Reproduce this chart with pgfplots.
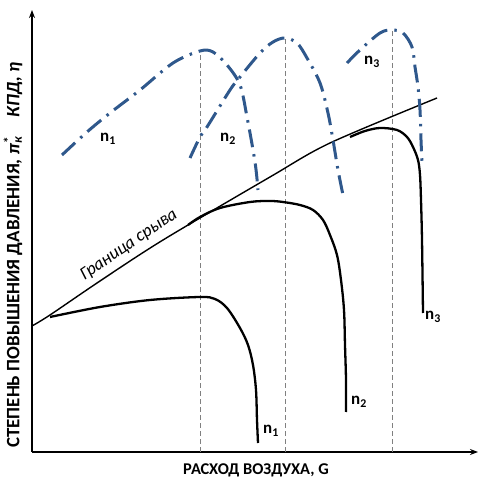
\documentclass[border=0pt]{standalone}
\usepackage{fontspec}
\setmainfont{Carlito}
\usepackage{pgfplots}
\pgfplotsset{compat=1.18}
\usetikzlibrary{arrows.meta}
\definecolor{effblue}{RGB}{47,88,140}

\begin{document}
\begin{tikzpicture}
\begin{axis}[
    scale only axis, width=446bp, height=442bp,
    xmin=32, xmax=478, ymin=26, ymax=468,
    axis lines=left,
    axis line style={line width=1.3bp, -{Stealth[length=8bp,width=6bp]}},
    ticks=none, clip=false,
    solid/.style={black, line width=2.3bp, smooth, tension=0.55},
    eff/.style={effblue, line width=3bp, smooth, tension=0.55,
        dash pattern=on 18bp off 7bp on 2.5bp off 7bp},
    guide/.style={gray, line width=0.9bp, dash pattern=on 5bp off 3bp},
]
\coordinate (bl) at (axis cs:0,0);
\coordinate (tr) at (axis cs:480,478);

% vertical guides
\addplot[guide] coordinates {(200,26)(200,427)};
\addplot[guide] coordinates {(285,26)(285,440)};
\addplot[guide] coordinates {(392,26)(392,448)};

% surge line
\addplot[black, line width=1.4bp, smooth] coordinates {
    (32,152)(50,163)(100,197)(163,238)(270,301)(330,335)(437,380)};

% pressure ratio curves
\addplot[solid] coordinates {
    (50,161)(100,171)(150,178)(200,181)(215,179)(227,170)(240,150)
    (248,133)(253,113)(256,88)(257,58)(258,35)};
\addplot[solid] coordinates {
    (188,253)(200,261)(220,270)(250,276)(270,277)(283,276)(300,273)
    (313,268)(323,258)(330,243)(337,223)(341,198)(344,168)(345,133)
    (346,98)(346,66)};
\addplot[solid] coordinates {
    (350,341)(365,347)(380,350)(397,348)(407,341)(413,331)(418,318)
    (420,303)(421,278)(422,238)(423,165)};

% efficiency curves
\addplot[eff] coordinates {
    (62,323)(87,346)(110,365)(140,388)(173,415)(200,427)(213,426)
    (227,413)(240,393)(247,361)(255,316)(258,288)};
\addplot[eff] coordinates {
    (190,320)(200,341)(207,351)(230,388)(240,401)(260,425)(273,436)
    (285,440)(297,435)(307,420)(320,395)(328,365)(333,338)(338,308)
    (343,283)};
\addplot[eff] coordinates {
    (347,415)(360,428)(380,445)(392,448)(403,445)(412,431)(415,411)
    (418,391)(420,368)(421,338)(422,315)};

% labels
\tikzset{nl/.style={font=\bfseries\fontsize{17}{17}\selectfont}}
\node[nl] at (axis cs:108,339) {n\textsubscript{1}};
\node[nl] at (axis cs:228,339) {n\textsubscript{2}};
\node[nl] at (axis cs:372,416) {n\textsubscript{3}};
\node[nl] at (axis cs:271,47) {n\textsubscript{1}};
\node[nl] at (axis cs:359,76) {n\textsubscript{2}};
\node[nl] at (axis cs:433,161) {n\textsubscript{3}};

\node[rotate=34, font=\itshape\fontsize{18}{18}\selectfont]
    at (axis cs:129,233) {Граница срыва};

\node[font=\bfseries\fontsize{16.5}{16.5}\selectfont] at (axis cs:256,8)
    {РАСХОД ВОЗДУХА, G};
\node[rotate=90, font=\bfseries\fontsize{19}{19}\selectfont]
    at (axis cs:13,223)
    {СТЕПЕНЬ ПОВЫШЕНИЯ ДАВЛЕНИЯ, \textit{π}\rlap{\textsuperscript{*}}\textsubscript{\textit{к}}\quad\textit{КПД, η}};
\end{axis}
\pgfresetboundingbox
\path (bl) rectangle (tr);
\end{tikzpicture}
\end{document}
